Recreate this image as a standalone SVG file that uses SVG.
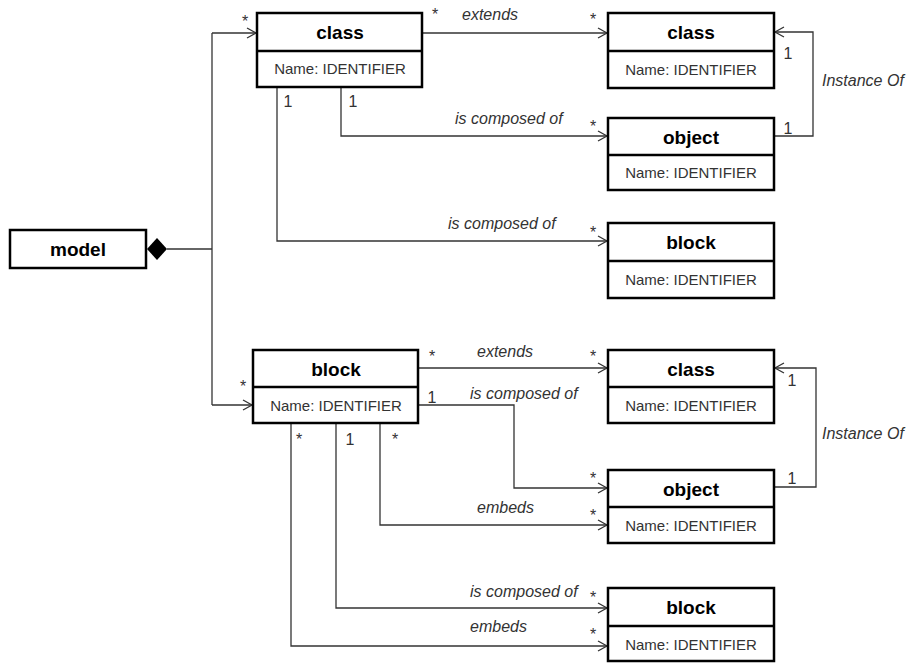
<svg xmlns="http://www.w3.org/2000/svg" width="908" height="664" viewBox="0 0 908 664">
<style>
.box{fill:#fff;stroke:#000;stroke-width:2.5}
.div{stroke:#000;stroke-width:2.5}
.title{font-family:"Liberation Sans",Arial,sans-serif;font-weight:bold;font-size:19px;fill:#000;text-anchor:middle}
.name{font-family:"Liberation Sans",Arial,sans-serif;font-size:15px;fill:#333;text-anchor:middle}
.lbl{font-family:"Liberation Sans",Arial,sans-serif;font-style:italic;font-size:16px;fill:#333}
.m{font-family:"Liberation Sans",Arial,sans-serif;font-size:16px;fill:#333;text-anchor:middle}
.c{fill:none;stroke:#333;stroke-width:1.3}
</style>
<defs>
<marker id="arr" markerWidth="12" markerHeight="12" refX="10" refY="6" orient="auto" markerUnits="userSpaceOnUse">
<path d="M1,1 L10,6 L1,11" fill="none" stroke="#333" stroke-width="1.3"/>
</marker>
</defs>
<g id="connectors">
<polygon points="147,249 157,238 167,249 157,260" fill="#000"/>
<polyline class="c" points="167,249 212,249"/>
<polyline class="c" points="212,33 212,405"/>
<polyline class="c" points="212,33 256,33" marker-end="url(#arr)"/>
<polyline class="c" points="212,405 252,405" marker-end="url(#arr)"/>
<polyline class="c" points="422,33 607,33" marker-end="url(#arr)"/>
<polyline class="c" points="341,87 341,136 607,136" marker-end="url(#arr)"/>
<polyline class="c" points="277,87 277,241 607,241" marker-end="url(#arr)"/>
<polyline class="c" points="774,136 813,136 813,32 775,32" marker-end="url(#arr)"/>
<polyline class="c" points="418,368 607,368" marker-end="url(#arr)"/>
<polyline class="c" points="418,405 514,405 514,488 607,488" marker-end="url(#arr)"/>
<polyline class="c" points="380,423 380,525 607,525" marker-end="url(#arr)"/>
<polyline class="c" points="336,423 336,608 607,608" marker-end="url(#arr)"/>
<polyline class="c" points="291,423 291,646 607,646" marker-end="url(#arr)"/>
<polyline class="c" points="774,487 816,487 816,368 775,368" marker-end="url(#arr)"/>
</g>
<g id="labels">
<text class="m" x="245" y="27">*</text>
<text class="m" x="435" y="20">*</text>
<text class="lbl" x="462" y="20">extends</text>
<text class="m" x="593" y="25">*</text>
<text class="lbl" x="455" y="124">is composed of</text>
<text class="m" x="593" y="132">*</text>
<text class="m" x="288" y="107">1</text>
<text class="m" x="353" y="107">1</text>
<text class="lbl" x="448" y="229">is composed of</text>
<text class="m" x="593" y="238">*</text>
<text class="lbl" x="822" y="86">Instance Of</text>
<text class="m" x="788" y="59">1</text>
<text class="m" x="788" y="134">1</text>
<text class="m" x="243" y="392">*</text>
<text class="m" x="432" y="362">*</text>
<text class="lbl" x="477" y="357">extends</text>
<text class="m" x="593" y="362">*</text>
<text class="m" x="432" y="403">1</text>
<text class="lbl" x="470" y="399">is composed of</text>
<text class="m" x="593" y="484">*</text>
<text class="lbl" x="477" y="513">embeds</text>
<text class="m" x="593" y="521">*</text>
<text class="m" x="792" y="386">1</text>
<text class="m" x="792" y="484">1</text>
<text class="lbl" x="822" y="439">Instance Of</text>
<text class="m" x="299" y="445">*</text>
<text class="m" x="350" y="445">1</text>
<text class="m" x="395" y="445">*</text>
<text class="lbl" x="470" y="597">is composed of</text>
<text class="m" x="593" y="603">*</text>
<text class="lbl" x="470" y="632">embeds</text>
<text class="m" x="593" y="640">*</text>
</g>
<g id="model">
<rect class="box" x="10" y="230" width="136" height="38"/>
<text class="title" x="78" y="256">model</text>
</g>
<g id="classA">
<rect class="box" x="257" y="13" width="165" height="74"/>
<line class="div" x1="257" y1="51" x2="422" y2="51"/>
<text class="title" x="340" y="39">class</text>
<text class="name" x="340" y="74">Name: IDENTIFIER</text>
</g>
<g id="classB">
<rect class="box" x="608" y="13" width="166" height="75"/>
<line class="div" x1="608" y1="51" x2="774" y2="51"/>
<text class="title" x="691" y="39">class</text>
<text class="name" x="691" y="75">Name: IDENTIFIER</text>
</g>
<g id="objectB">
<rect class="box" x="608" y="118" width="166" height="72"/>
<line class="div" x1="608" y1="155" x2="774" y2="155"/>
<text class="title" x="691" y="144">object</text>
<text class="name" x="691" y="178">Name: IDENTIFIER</text>
</g>
<g id="blockB">
<rect class="box" x="608" y="223" width="166" height="75"/>
<line class="div" x1="608" y1="261" x2="774" y2="261"/>
<text class="title" x="691" y="249">block</text>
<text class="name" x="691" y="285">Name: IDENTIFIER</text>
</g>
<g id="blockA">
<rect class="box" x="253" y="350" width="165" height="73"/>
<line class="div" x1="253" y1="387" x2="418" y2="387"/>
<text class="title" x="336" y="376">block</text>
<text class="name" x="336" y="411">Name: IDENTIFIER</text>
</g>
<g id="classC">
<rect class="box" x="608" y="350" width="166" height="73"/>
<line class="div" x1="608" y1="387" x2="774" y2="387"/>
<text class="title" x="691" y="376">class</text>
<text class="name" x="691" y="411">Name: IDENTIFIER</text>
</g>
<g id="objectC">
<rect class="box" x="608" y="470" width="166" height="73"/>
<line class="div" x1="608" y1="507" x2="774" y2="507"/>
<text class="title" x="691" y="496">object</text>
<text class="name" x="691" y="531">Name: IDENTIFIER</text>
</g>
<g id="blockC">
<rect class="box" x="608" y="588" width="166" height="73"/>
<line class="div" x1="608" y1="626" x2="774" y2="626"/>
<text class="title" x="691" y="614">block</text>
<text class="name" x="691" y="650">Name: IDENTIFIER</text>
</g>
</svg>
